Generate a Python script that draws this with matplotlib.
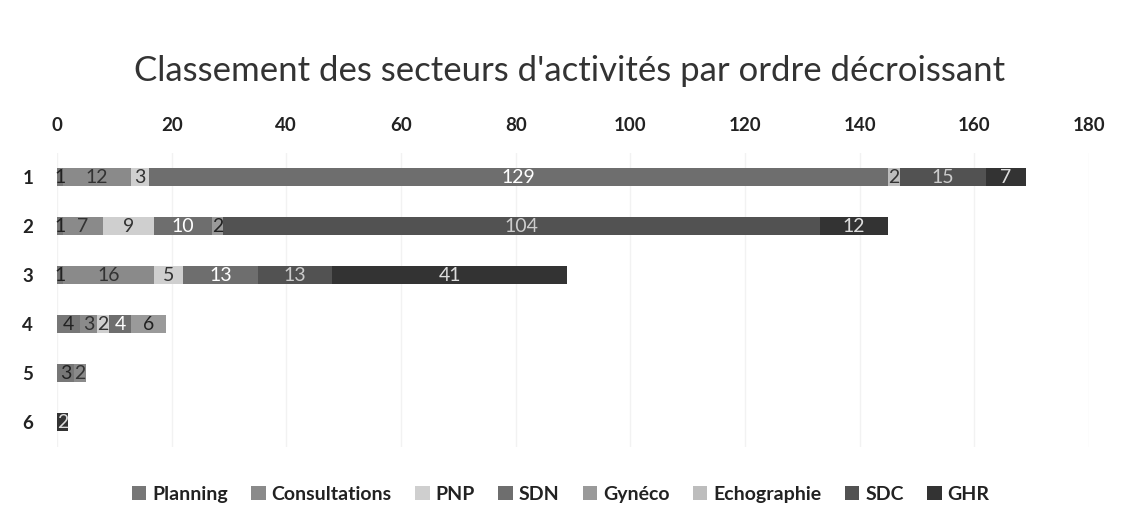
import matplotlib
matplotlib.use("Agg")
import matplotlib.pyplot as plt
import numpy as np

plt.rcParams['font.family'] = ['Lato', 'DejaVu Sans']

title = "Classement des secteurs d'activités par ordre décroissant"
categories = ["1", "2", "3", "4", "5", "6"]
series_names = ["Planning", "Consultations", "PNP", "SDN", "Gynéco", "Echographie", "SDC", "GHR"]
series_colors = ["#777777", "#8a8a8a", "#cfcfcf", "#6e6e6e", "#9a9a9a", "#bdbdbd", "#525252", "#333333"]
label_colors = ["#222222", "#333333", "#333333", "#ffffff", "#222222", "#333333", "#cccccc", "#dddddd"]

planning      = [1, 1, 1, 4, 3, 0]
consultations = [12, 7, 16, 3, 2, 0]
pnp           = [3, 9, 5, 2, 0, 0]
sdn           = [129, 10, 13, 4, 0, 0]
gyneco        = [0, 2, 0, 6, 0, 0]
echographie   = [2, 0, 0, 0, 0, 0]
sdc           = [15, 104, 13, 0, 0, 0]
ghr           = [7, 12, 41, 0, 0, 2]
series_values = [planning, consultations, pnp, sdn, gyneco, echographie, sdc, ghr]

xticks = [0, 20, 40, 60, 80, 100, 120, 140, 160, 180]

fig = plt.figure(figsize=(11.21, 5.13), dpi=100)
ax = fig.add_axes([0.0508, 0.1296, 0.9207, 0.5731])

y = np.arange(len(categories))
left = np.zeros(len(categories))
for name, vals, col, lc in zip(series_names, series_values, series_colors, label_colors):
    vals = np.array(vals, dtype=float)
    ax.barh(y, vals, left=left, height=0.37, color=col, label=name, zorder=3)
    for bi, (v, l) in enumerate(zip(vals, left)):
        if v > 0:
            ax.text(l + v / 2, bi, f"{int(v)}", ha="center", va="center",
                    fontsize=14, color=lc, zorder=4)
    left += vals

ax.set_xlim(0, 180)
ax.set_ylim(len(categories) - 0.5, -0.5)
ax.set_xticks(xticks)
ax.set_xticklabels([str(t) for t in xticks], fontsize=13.5, fontweight="bold", color="#222222")
ax.xaxis.tick_top()
ax.tick_params(axis="x", length=0, pad=13)
ax.set_yticks(y)
ax.set_yticklabels(categories, fontsize=13.5, fontweight="bold", color="#222222")
ax.tick_params(axis="y", length=0, pad=17)
ax.grid(axis="x", color="#f2f2f2", linewidth=1, zorder=0)
for s in ax.spines.values():
    s.set_visible(False)

fig.text(0.508, 0.862, title, ha="center", va="center", fontsize=25, color="#333333")

handles, labels = ax.get_legend_handles_labels()
leg = fig.legend(handles, labels, loc="center", bbox_to_anchor=(0.5, 0.037), ncol=8,
                 frameon=False, prop={"size": 14, "weight": "bold"},
                 handlelength=0.75, handleheight=0.75, handletextpad=0.3, columnspacing=1.2)
for t in leg.get_texts():
    t.set_color("#222222")

fig.savefig("out.png", dpi=100)
